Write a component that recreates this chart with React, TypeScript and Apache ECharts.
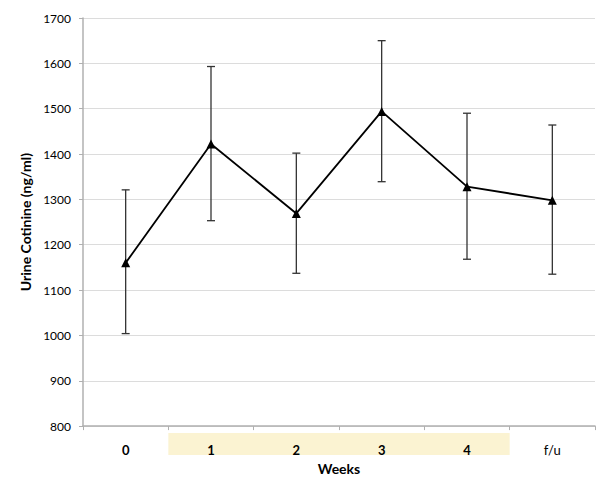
import React, { useEffect, useRef } from "react";
import * as echarts from "echarts";

const weeks = ["0", "1", "2", "3", "4", "f/u"];
const means = [1160, 1422, 1269, 1494, 1328, 1298];
const lowerErr = [1004, 1253, 1137, 1339, 1168, 1135];
const upperErr = [1321, 1593, 1402, 1650, 1490, 1464];
const highlighted = ["1", "2", "3", "4"];

const FONT = "Lato, 'Open Sans', sans-serif";

export default function App() {
  const ref = useRef<HTMLDivElement>(null);
  useEffect(() => {
    if (!ref.current) return;
    const chart = echarts.init(ref.current, null, { renderer: "svg" });
    const errData = weeks.map((w, i) => [i, lowerErr[i], upperErr[i]]);
    chart.setOption({
      animation: false,
      backgroundColor: "#ffffff",
      grid: { left: 83, right: 5, top: 18, bottom: 51, containLabel: false },
      xAxis: {
        type: "category",
        data: weeks,
        boundaryGap: true,
        name: "Weeks",
        nameLocation: "middle",
        nameGap: 33,
        nameTextStyle: { fontFamily: FONT, fontWeight: "bold", fontSize: 14, color: "#000" },
        axisLine: { lineStyle: { color: "#b0b0b0", width: 1.5 } },
        axisTick: { show: true, length: 4, lineStyle: { color: "#b0b0b0" }, alignWithLabel: false },
        axisLabel: {
          margin: 13,
          fontFamily: FONT,
          fontSize: 13,
          color: "#000",
          formatter: (v: string) => (v === "f/u" ? "{n|" + v + "}" : "{b|" + v + "}"),
          rich: {
            b: { fontFamily: FONT, fontSize: 13, fontWeight: "bold", color: "#000", padding: [4, 0, 0, 0] },
            n: { fontFamily: FONT, fontSize: 13, color: "#000", padding: [4, 0, 0, 0] },
          },
        },
        splitLine: { show: false },
        z: 5,
      },
      yAxis: {
        type: "value",
        min: 800,
        max: 1700,
        interval: 100,
        name: "Urine Cotinine (ng/ml)",
        nameLocation: "middle",
        nameGap: 48,
        nameTextStyle: { fontFamily: FONT, fontWeight: "bold", fontSize: 14, color: "#000" },
        axisLine: { show: true, lineStyle: { color: "#b0b0b0", width: 1.5 } },
        axisTick: { show: true, length: 4, lineStyle: { color: "#b0b0b0" } },
        axisLabel: {
          margin: 12,
          fontFamily: FONT,
          fontSize: 12,
          color: "#000",
          formatter: (v: number) => String(v),
        },
        splitLine: { lineStyle: { color: "#dcdcdc", width: 1 } },
      },
      series: [
        {
          type: "custom",
          name: "err",
          data: errData,
          z: 2,
          renderItem: (params: any, api: any) => {
            const x = api.value(0);
            const lo = api.coord([x, api.value(1)]);
            const hi = api.coord([x, api.value(2)]);
            const hw = 4;
            const style = { stroke: "#333", lineWidth: 1.3, fill: "none" };
            return {
              type: "group",
              children: [
                { type: "line", shape: { x1: lo[0], y1: lo[1], x2: hi[0], y2: hi[1] }, style },
                { type: "line", shape: { x1: lo[0] - hw, y1: lo[1], x2: lo[0] + hw, y2: lo[1] }, style },
                { type: "line", shape: { x1: hi[0] - hw, y1: hi[1], x2: hi[0] + hw, y2: hi[1] }, style },
              ],
            };
          },
        },
        {
          type: "line",
          name: "mean",
          data: means,
          z: 3,
          symbol: "triangle",
          symbolSize: 9,
          itemStyle: { color: "#000" },
          lineStyle: { color: "#000", width: 1.8 },
        },
      ],
    });

    // yellow band behind highlighted category labels
    const idxs = highlighted.map((h) => weeks.indexOf(h));
    const first = chart.convertToPixel({ xAxisIndex: 0 }, weeks[idxs[0]]) as number;
    const second = chart.convertToPixel({ xAxisIndex: 0 }, weeks[idxs[0] + 1]) as number;
    const last = chart.convertToPixel({ xAxisIndex: 0 }, weeks[idxs[idxs.length - 1]]) as number;
    const step = second - first;
    const axisY = chart.convertToPixel({ yAxisIndex: 0 }, 800) as number;
    chart.setOption({
      graphic: [
        {
          type: "rect",
          z: -1,
          shape: {
            x: first - step / 2,
            y: axisY + 7,
            width: last - first + step,
            height: 22,
          },
          style: { fill: "#FBF3D2" },
        },
      ],
    });

    return () => chart.dispose();
  }, []);
  return (
    <div
      ref={ref}
      style={{ position: "fixed", left: 0, top: 0, width: 600, height: 480 }}
    />
  );
}
